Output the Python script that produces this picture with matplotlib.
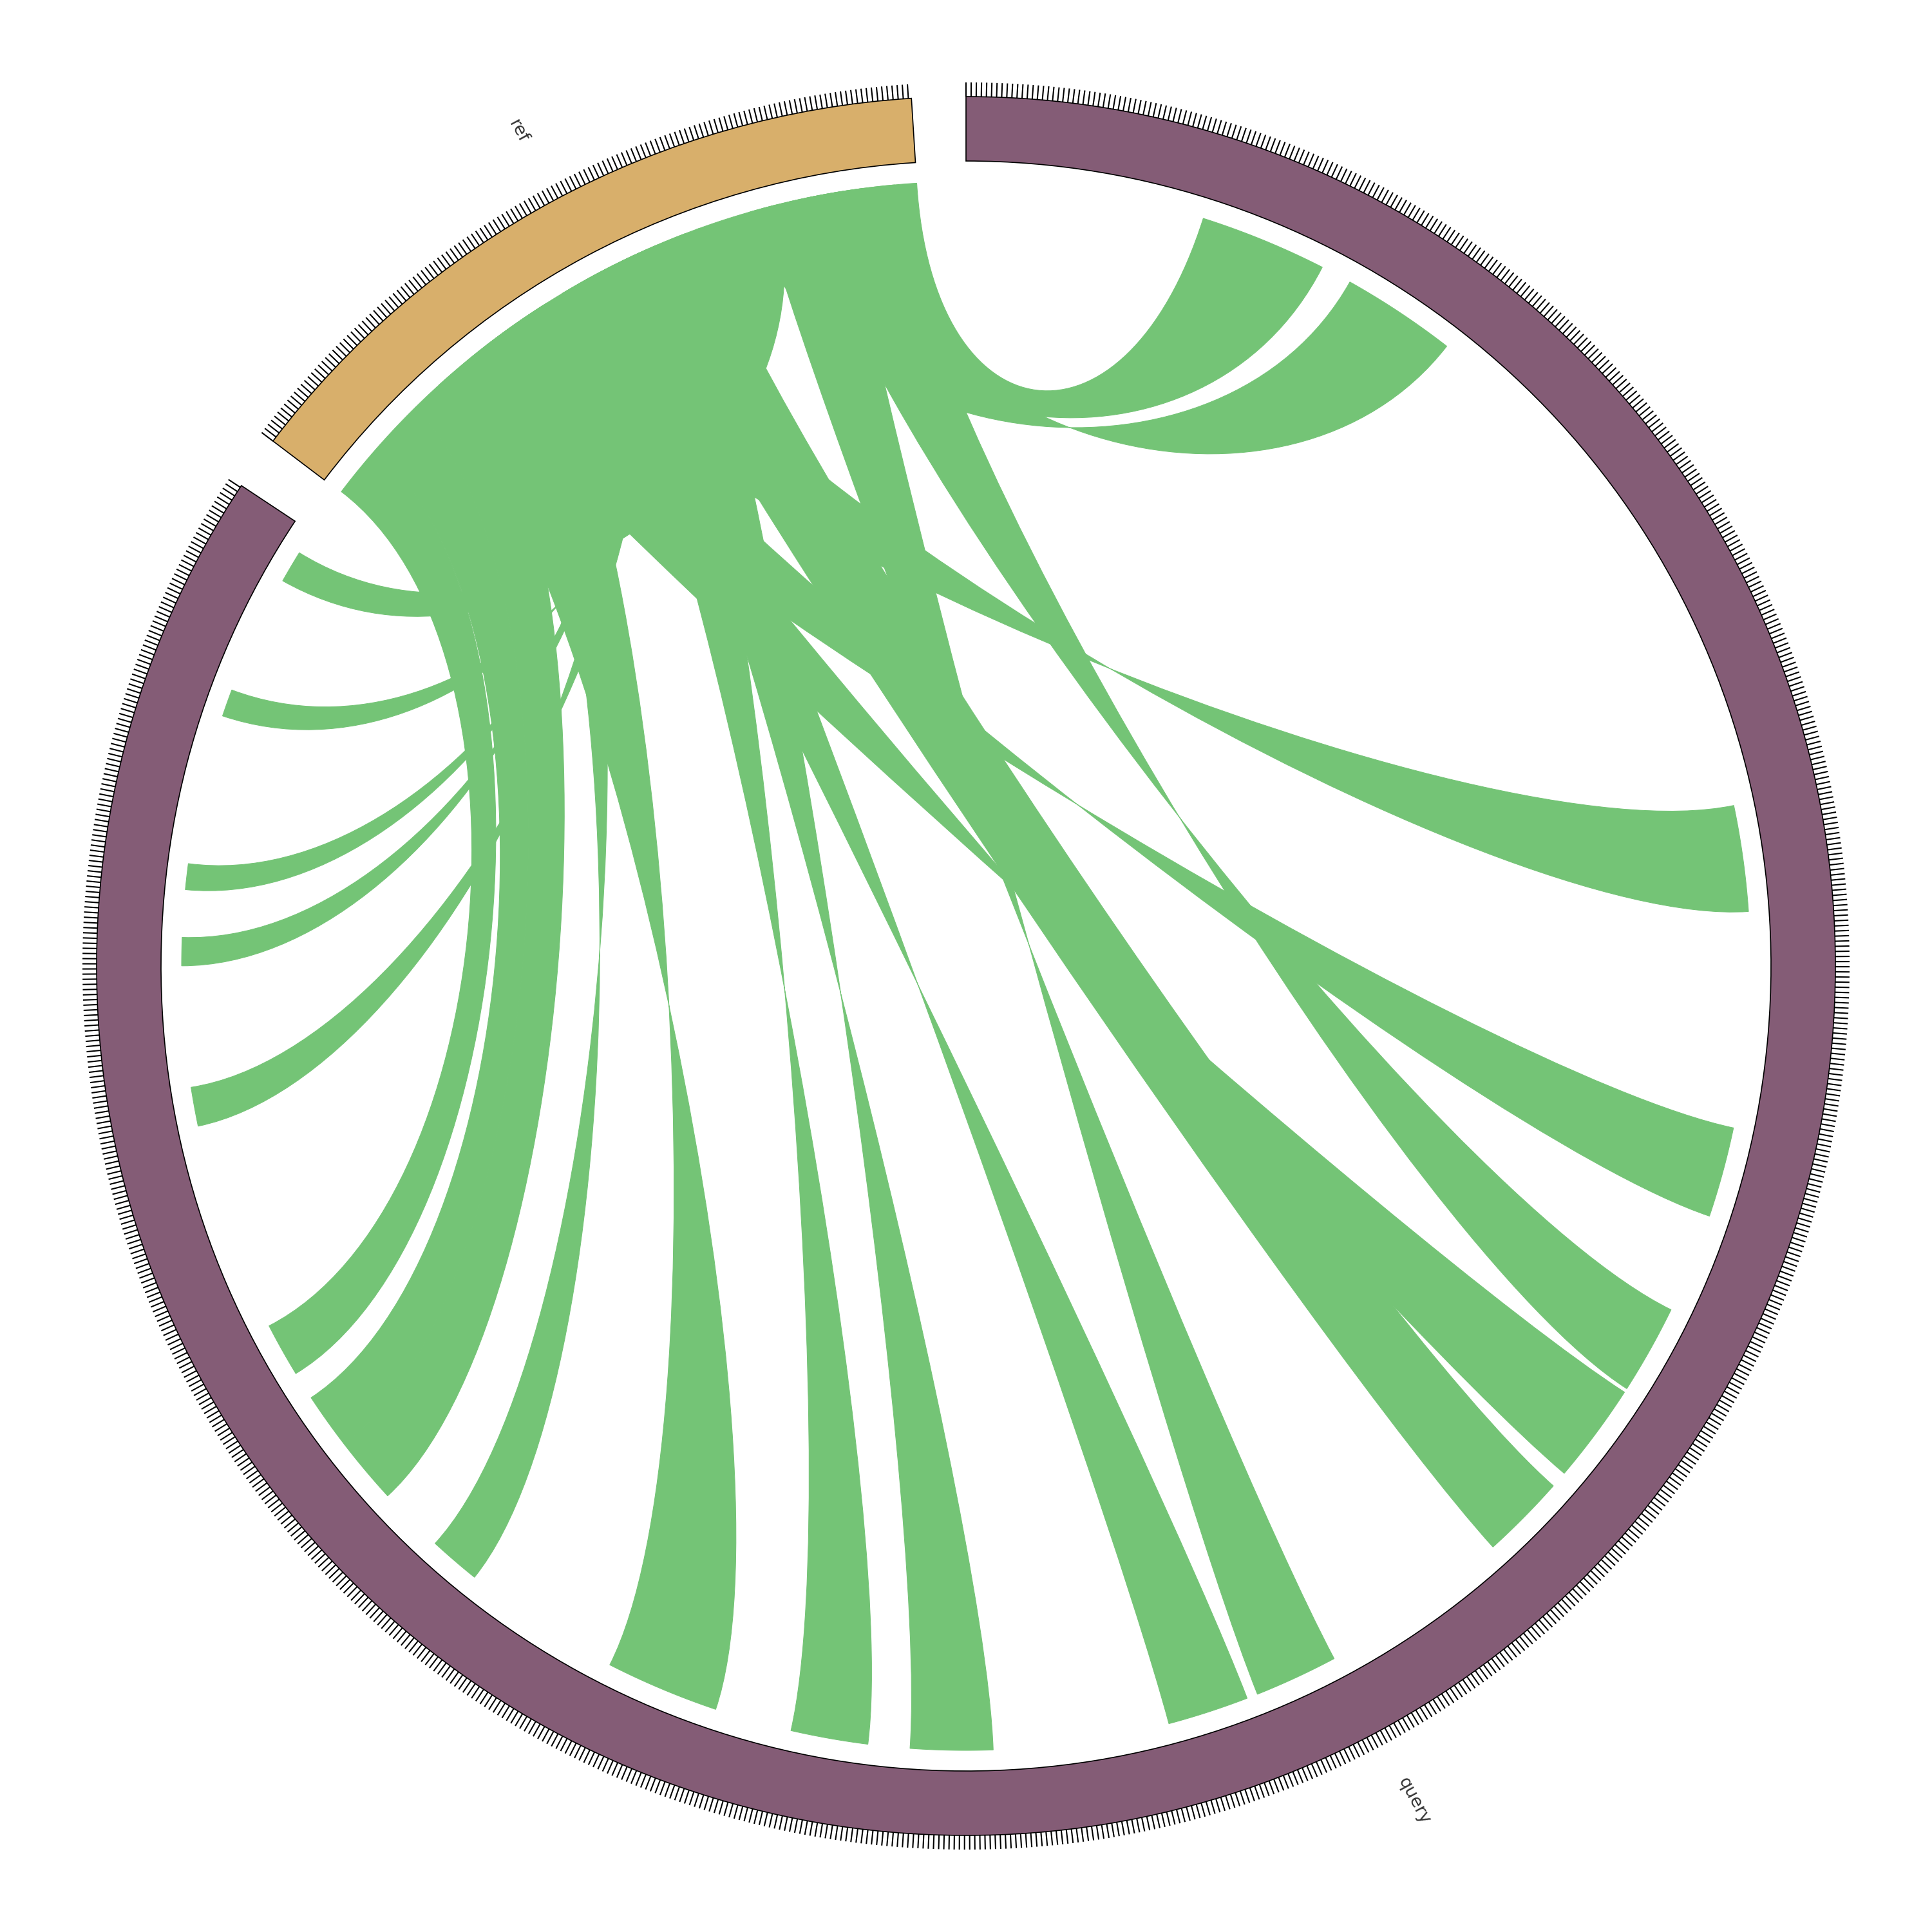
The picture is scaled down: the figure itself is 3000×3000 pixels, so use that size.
import numpy as np
import matplotlib
matplotlib.use("Agg")
import matplotlib.pyplot as plt
from matplotlib.path import Path
from matplotlib.patches import PathPatch, Wedge
from matplotlib.collections import LineCollection

# ---------------- data ----------------
sector_names = ["query", "ref"]
sector_sizes = [9034, 1466]          # kb
sector_colors = ["#845C76", "#D8AF6B"]
tick_interval = 10                   # kb

# alignment links (kb). query_start > query_end means inverted alignment
ref_starts   = [1186, 1097, 564, 402, 1222, 392, 795, 1124, 651, 768, 715, 317, 445, 246, 121,   2, 697, 651, 710, 799, 975]
ref_ends     = [1466, 1350, 796, 601, 1418, 612, 982, 1308, 829, 950, 884, 567, 558, 392, 246, 121, 783, 713, 767, 859, 1157]
query_starts = [804,  872, 2327, 3033, 3452, 3658, 4101, 4524, 4732, 5298, 5571, 5911, 6512, 6917, 7042, 7223, 7685, 8036, 8202, 8589, 8911]
query_ends   = [524, 1125, 2560, 3232, 3649, 3878, 3914, 4708, 4911, 5479, 5741, 6161, 6625, 6771, 6917, 7104, 7771, 8098, 8259, 8649, 8982]
link_color = "#74C476"

# ---------------- geometry ----------------
GAP = 3.6
R_IN, R_OUT, R_TICK, R_LINK, R_LABEL = 1250, 1350, 1372, 1218, 1471
K_CTL = 0.67

total = sum(sector_sizes)
deg_per = (360 - GAP * len(sector_sizes)) / total
sector_start = {}
a = 0.0
for name, size in zip(sector_names, sector_sizes):
    sector_start[name] = a
    a += size * deg_per + GAP


def ang(name, pos):
    return sector_start[name] + pos * deg_per


def xy(theta, r):
    t = np.deg2rad(theta)
    return np.array([r * np.sin(t), r * np.cos(t)])


fig = plt.figure(figsize=(10, 10), dpi=300)
ax = fig.add_axes([0, 0, 1, 1])
ax.set_xlim(-1500, 1500)
ax.set_ylim(-1500, 1500)
ax.set_aspect("equal")
ax.axis("off")

# sectors, ticks, labels
for name, size, col in zip(sector_names, sector_sizes, sector_colors):
    t1, t2 = ang(name, 0), ang(name, size)
    ax.add_patch(Wedge((0, 0), R_OUT, 90 - t2, 90 - t1, width=R_OUT - R_IN,
                       facecolor=col, edgecolor="black", linewidth=0.4, zorder=3))
    segs = []
    for p in range(0, size + 1, tick_interval):
        th = ang(name, p)
        segs.append([xy(th, R_OUT), xy(th, R_TICK)])
    ax.add_collection(LineCollection(segs, colors="black", linewidths=0.5, zorder=3))
    mid = (t1 + t2) / 2
    rot = (90 - mid) % 360
    if rot > 180:
        rot -= 360
    if rot > 90:
        rot -= 180
    if rot < -90:
        rot += 180
    lx, ly = xy(mid, R_LABEL)
    ax.text(lx, ly, name, rotation=rot, ha="center", va="center",
            fontsize=6.5, color="#333333", rotation_mode="anchor")


def arc_pts(t1, t2, r, n=60):
    ts = np.linspace(t1, t2, n)
    return [xy(t, r) for t in ts]


def link_path(rs, re, qs, qe):
    a1, a2 = ang("ref", rs), ang("ref", re)
    b1, b2 = ang("query", qs), ang("query", qe)
    verts, codes = [], []
    pts = arc_pts(a1, a2, R_LINK)
    verts += pts
    codes += [Path.MOVETO] + [Path.LINETO] * (len(pts) - 1)
    verts += [xy(a2, R_LINK * K_CTL), xy(b2, R_LINK * K_CTL), xy(b2, R_LINK)]
    codes += [Path.CURVE4] * 3
    pts = arc_pts(b2, b1, R_LINK)
    verts += pts[1:]
    codes += [Path.LINETO] * (len(pts) - 1)
    verts += [xy(b1, R_LINK * K_CTL), xy(a1, R_LINK * K_CTL), xy(a1, R_LINK)]
    codes += [Path.CURVE4] * 3
    verts.append(xy(a1, R_LINK))
    codes.append(Path.CLOSEPOLY)
    return Path(np.array(verts), codes)


for rs, re, qs, qe in zip(ref_starts, ref_ends, query_starts, query_ends):
    ax.add_patch(PathPatch(link_path(rs, re, qs, qe), facecolor=link_color,
                           edgecolor=link_color, linewidth=0.25, zorder=2))

fig.savefig("out.png", dpi=300, facecolor="white")
